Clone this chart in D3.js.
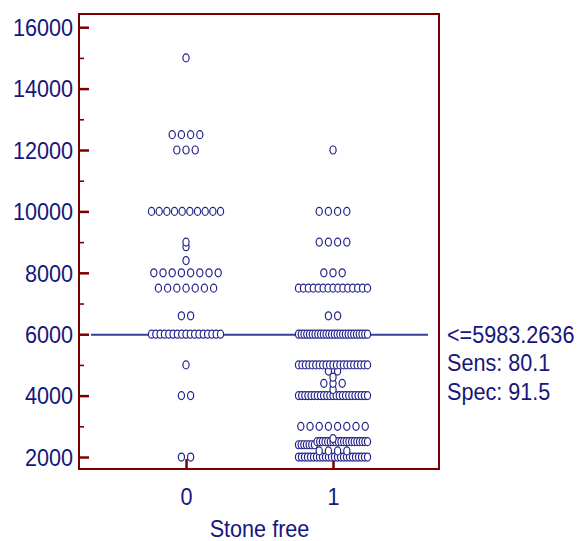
<!DOCTYPE html>
<html>
<head>
<meta charset="utf-8">
<script src="https://cdn.jsdelivr.net/npm/d3@7"></script>
<style>
  html, body { margin: 0; padding: 0; background: #fff; }
  svg { display: block; }
</style>
</head>
<body>
<svg id="chart" width="580" height="541"></svg>
<script>
// Group codes on the x axis
const categories = [0, 1];

// Values observed in group 0 and how many cases share each value
const levels0 = [2000, 4000, 5000, 6000, 6600, 7500, 8000, 8400, 8850, 9000, 10000, 12000, 12500, 15000];
const counts0 = [2, 2, 1, 17, 2, 7, 8, 1, 1, 1, 10, 3, 4, 1];

// Values observed in group 1 and how many cases share each value
const levels1 = [2000, 2200, 2400, 2500, 2600, 3000, 4000, 4200, 4400, 4600, 4800, 5000, 6000, 6600, 7500, 8000, 9000, 10000, 12000];
const counts1 = [24, 4, 7, 20, 1, 8, 23, 1, 3, 1, 2, 21, 26, 2, 15, 3, 4, 4, 1];

// Axis ticks
const yTicks = [2000, 4000, 6000, 8000, 10000, 12000, 14000, 16000];
const yMinorTicks = [3000, 5000, 7000, 9000, 11000, 13000, 15000];

// Criterion and its diagnostic performance
const cutoff = 5983.2636;
const sensitivity = 80.1;
const specificity = 91.5;
const xTitle = "Stone free";

// ---- styling ----
const FRAME = "#7a0000";
const INK = "#16167c";
const DOT = "#23238c";
const CUT = "#383c9a";
const FONT = "'Liberation Sans', Arial, sans-serif";
const FS = 23;
const SX = 0.94;           // slight horizontal condensing of the lettering

const plotLeft = 79, plotRight = 439, plotTop = 14, plotBottom = 469;

const svg = d3.select("#chart");

const x = d3.scaleLinear().domain([-0.728, 1.721]).range([plotLeft, plotRight]);
const y = d3.scaleLinear().domain([1610, 16430]).range([plotBottom, plotTop]);

// ---- frame ----
svg.append("rect")
  .attr("x", plotLeft).attr("y", plotTop)
  .attr("width", plotRight - plotLeft).attr("height", plotBottom - plotTop)
  .attr("fill", "none").attr("stroke", FRAME).attr("stroke-width", 2);

// ---- y axis (ticks point into the plot) ----
const yAxis = svg.append("g")
  .attr("transform", `translate(${plotLeft},0)`)
  .call(d3.axisLeft(y).tickValues(yTicks).tickSize(-10).tickPadding(6).tickFormat(d3.format("d")));
yAxis.select(".domain").remove();
yAxis.selectAll(".tick line").attr("stroke", FRAME).attr("stroke-width", 2.5);
yAxis.selectAll(".tick text")
  .attr("fill", INK).attr("font-family", FONT).attr("font-size", FS)
  .attr("dy", "0.36em")
  .attr("x", -6 / SX)
  .attr("transform", `scale(${SX},1)`);

const yMinor = svg.append("g")
  .attr("transform", `translate(${plotLeft},0)`)
  .call(d3.axisLeft(y).tickValues(yMinorTicks).tickSize(-5).tickFormat(""));
yMinor.select(".domain").remove();
yMinor.selectAll(".tick line").attr("stroke", FRAME).attr("stroke-width", 1.6);

// ---- x axis (ticks point up into the plot) ----
const xAxis = svg.append("g")
  .attr("transform", `translate(0,${plotBottom})`)
  .call(d3.axisBottom(x).tickValues(categories).tickSize(-10).tickPadding(20).tickFormat(d3.format("d")));
xAxis.select(".domain").remove();
xAxis.selectAll(".tick line").attr("stroke", FRAME).attr("stroke-width", 2.5);
xAxis.selectAll(".tick text")
  .attr("fill", INK).attr("font-family", FONT).attr("font-size", FS)
  .attr("transform", `scale(${SX},1)`);

svg.append("text")
  .attr("transform", `translate(${(x(0) + x(1)) / 2},537) scale(${SX},1)`)
  .attr("text-anchor", "middle")
  .attr("fill", INK).attr("font-family", FONT).attr("font-size", FS)
  .text(xTitle);

// ---- cut-off line ----
svg.append("line")
  .attr("x1", plotLeft + 12).attr("x2", plotRight - 11)
  .attr("y1", y(cutoff)).attr("y2", y(cutoff))
  .attr("stroke", CUT).attr("stroke-width", 2.2);

// ---- dot plot ----
// Cases are sorted, grouped into rows of (nearly) equal value and spread
// sideways around the group centre; crowded rows are squeezed to a max width.
const ROW_JOIN = 120;      // values closer than this share a row
const STEP = 9.2;          // preferred horizontal step between dots
const MAX_SPAN = 69;       // widest centre-to-centre spread of a row

function expand(levels, counts) {
  const out = [];
  levels.forEach((v, i) => { for (let k = 0; k < counts[i]; k++) out.push(v); });
  return out;
}

function layout(values, group) {
  const sorted = values.slice().sort((a, b) => a - b);
  const rows = [];
  let cur = null;
  sorted.forEach(v => {
    if (cur && v - cur.start < ROW_JOIN) cur.items.push(v);
    else { cur = { start: v, items: [v] }; rows.push(cur); }
  });
  const pts = [];
  rows.forEach(r => {
    const n = r.items.length;
    const step = n > 1 ? Math.min(STEP, MAX_SPAN / (n - 1)) : 0;
    r.items.forEach((v, i) => {
      pts.push({ group, value: v, dx: (i - (n - 1) / 2) * step });
    });
  });
  return pts;
}

const points = [
  ...layout(expand(levels0, counts0), categories[0]),
  ...layout(expand(levels1, counts1), categories[1])
];

svg.append("g")
  .selectAll("ellipse")
  .data(points)
  .join("ellipse")
  .attr("cx", d => x(d.group) + d.dx)
  .attr("cy", d => y(d.value))
  .attr("rx", 3.1)
  .attr("ry", 4.0)
  .attr("fill", "#fff")
  .attr("stroke", DOT)
  .attr("stroke-width", 1.2);

// ---- criterion annotation ----
const notes = [
  "<=" + cutoff.toFixed(4),
  "Sens: " + sensitivity.toFixed(1),
  "Spec: " + specificity.toFixed(1)
];
svg.append("g")
  .selectAll("text")
  .data(notes)
  .join("text")
  .attr("transform", (d, i) => `translate(447,${y(cutoff) + 8 + i * 28.4}) scale(${SX},1)`)
  .attr("fill", INK).attr("font-family", FONT).attr("font-size", FS)
  .text(d => d);
</script>
</body>
</html>
